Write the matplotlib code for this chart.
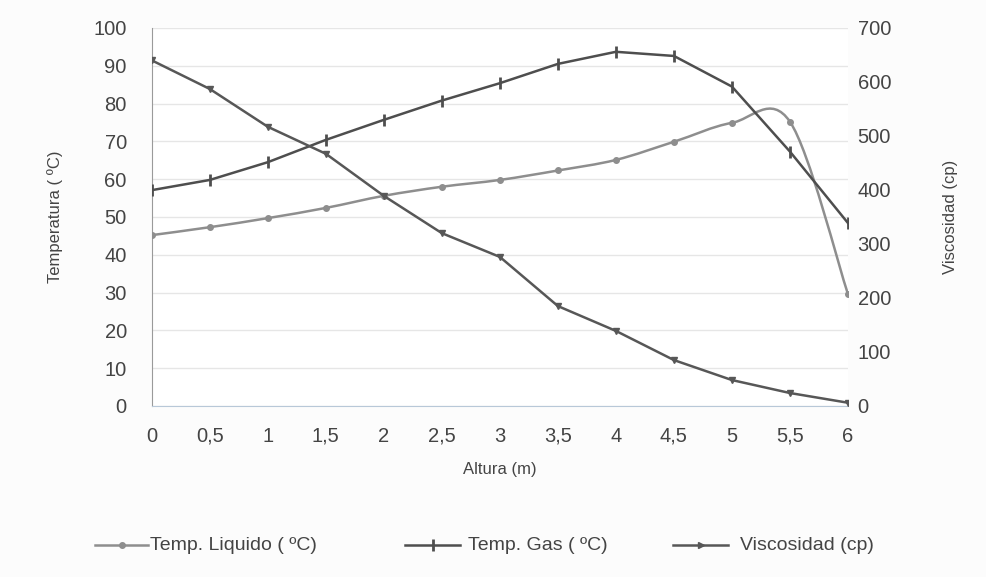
import matplotlib
matplotlib.use("Agg")
from matplotlib import pyplot as plt
from matplotlib.path import Path
from matplotlib.patches import PathPatch
from matplotlib.lines import Line2D

plt.rcParams['font.family'] = ['Liberation Sans', 'DejaVu Sans']

altura = [0, 0.5, 1, 1.5, 2, 2.5, 3, 3.5, 4, 4.5, 5, 5.5, 6]
temp_liquido = [45.2, 47.3, 49.7, 52.4, 55.6, 58.0, 59.8, 62.3, 65.1, 69.9, 74.9, 75.2, 29.6]
temp_gas = [57.1, 59.8, 64.5, 70.4, 75.7, 80.8, 85.4, 90.5, 93.7, 92.6, 84.5, 67.3, 48.4]
viscosidad = [640, 587, 517, 467, 389, 320, 276, 185, 139, 85, 48, 24, 6]

x_ticks = [0, 0.5, 1, 1.5, 2, 2.5, 3, 3.5, 4, 4.5, 5, 5.5, 6]
x_labels = ["0", "0,5", "1", "1,5", "2", "2,5", "3", "3,5", "4", "4,5", "5", "5,5", "6"]
legend_labels = ["Temp. Liquido ( ºC)", "Temp. Gas ( ºC)", "Viscosidad (cp)"]


def smooth_path(xs, ys):
    # smoothed line like Excel: cubic bezier through every point
    n = len(xs)
    verts = [(xs[0], ys[0])]
    codes = [Path.MOVETO]
    for i in range(n - 1):
        i0 = max(i - 1, 0)
        i3 = min(i + 2, n - 1)
        c1 = (xs[i] + (xs[i + 1] - xs[i0]) / 6, ys[i] + (ys[i + 1] - ys[i0]) / 6)
        c2 = (xs[i + 1] - (xs[i3] - xs[i]) / 6, ys[i + 1] - (ys[i3] - ys[i]) / 6)
        verts += [c1, c2, (xs[i + 1], ys[i + 1])]
        codes += [Path.CURVE4] * 3
    return Path(verts, codes)


W, H = 986, 577
fig = plt.figure(figsize=(W / 100, H / 100), dpi=100, facecolor="#fcfcfc")
ax = fig.add_axes([0.154, 0.2964, 0.706, 0.6551])
ax2 = ax.twinx()

c_liq = "#8e8e8e"
c_gas = "#4e4e4e"
c_vis = "#575757"
styles = [
    dict(color=c_liq, marker="o", ms=4),
    dict(color=c_gas, marker="|", ms=9, mew=2),
    dict(color=c_vis, marker=">", ms=5),
]

ax.add_patch(PathPatch(smooth_path(altura, temp_liquido), fill=False, ec=c_liq, lw=1.8, zorder=3))
ax.plot(altura, temp_liquido, ls="none", marker="o", ms=4, color=c_liq, zorder=4)
ax.plot(altura, temp_gas, color=c_gas, lw=1.8, marker="|", ms=9, mew=2, zorder=4)
ax2.plot(altura, viscosidad, color=c_vis, lw=1.8, marker="v", ms=4, zorder=4)

ax.set_xlim(0, 6)
ax.set_ylim(0, 100)
ax2.set_ylim(0, 700)
ax.set_xticks(x_ticks)
ax.set_xticklabels(x_labels)
ax.set_yticks(range(0, 101, 10))
ax2.set_yticks(range(0, 701, 100))

ax.set_facecolor("white")
for a in (ax, ax2):
    for s in a.spines.values():
        s.set_visible(False)
ax.spines["left"].set_visible(True)
ax.spines["left"].set_color("#9a9a9a")
ax.spines["bottom"].set_visible(True)
ax.spines["bottom"].set_color("#b8c8d8")

ax.grid(axis="y", color="#e6e6e6", lw=1)
ax.tick_params(axis="both", length=0, labelsize=14.5, colors="#444444")
ax.tick_params(axis="y", pad=18)
ax.tick_params(axis="x", pad=15)
ax2.tick_params(axis="y", length=0, labelsize=14.5, colors="#444444", pad=7)

ax.set_xlabel("Altura (m)", fontsize=12, color="#444444", labelpad=12)
ax.set_ylabel("Temperatura ( ºC)", fontsize=12, color="#444444", labelpad=22)
ax2.set_ylabel("Viscosidad (cp)", fontsize=12, color="#444444", rotation=90, labelpad=37)

# legend drawn by hand, the three entries are unevenly spaced in the original
legend_y = 1 - 545 / H
handle_px = [(95, 148), (405, 460), (673, 728)]
text_px = [150, 468, 740]
for (x0, x1), tx, lab, st in zip(handle_px, text_px, legend_labels, styles):
    fig.add_artist(Line2D([x0 / W, x1 / W], [legend_y, legend_y], color=st["color"], lw=1.8))
    fig.add_artist(Line2D([(x0 + x1) / 2 / W], [legend_y], ls="none", **st))
    fig.text(tx / W, legend_y, lab, fontsize=14, color="#444444", va="center", ha="left")

fig.savefig("out.png", dpi=100, facecolor=fig.get_facecolor())
